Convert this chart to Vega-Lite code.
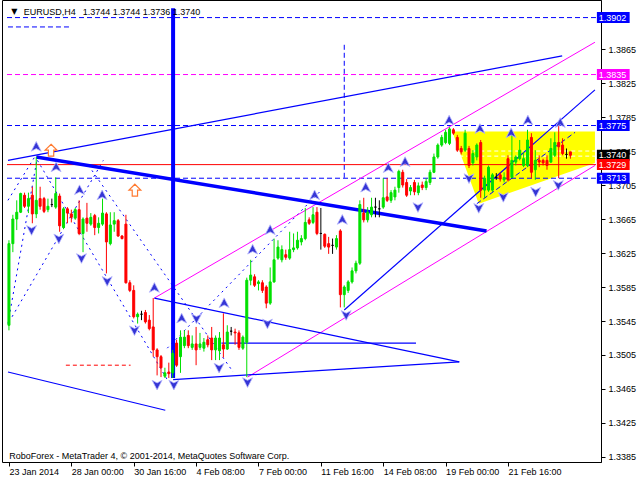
{
"$schema":"https://vega.github.io/schema/vega-lite/v6.json",
"width":599,"height":462,
"autosize":{"type":"none"},
"padding":{"left":2,"top":0,"right":39,"bottom":18},
"background":"white",
"config":{"view":{"stroke":"black","strokeWidth":1},"font":"Liberation Sans","axis":{"labelOverlap":false,"labelBound":false,"labelFlush":false}},
"datasets":{
"candles":[
{"i":0,"o":1.3540,"c":1.3636,"h":1.3640,"l":1.3534},
{"i":1,"o":1.3636,"c":1.3665,"h":1.3670,"l":1.3626},
{"i":2,"o":1.3665,"c":1.3673,"h":1.3687,"l":1.3652},
{"i":3,"o":1.3673,"c":1.3695,"h":1.3696,"l":1.3672},
{"i":4,"o":1.3693,"c":1.3680,"h":1.3696,"l":1.3678},
{"i":5,"o":1.3680,"c":1.3689,"h":1.3696,"l":1.3672},
{"i":6,"o":1.3693,"c":1.3671,"h":1.3703,"l":1.3660},
{"i":7,"o":1.3671,"c":1.3687,"h":1.3738,"l":1.3666},
{"i":8,"o":1.3689,"c":1.3680,"h":1.3703,"l":1.3676},
{"i":9,"o":1.3689,"c":1.3674,"h":1.3691,"l":1.3672},
{"i":10,"o":1.3676,"c":1.3680,"h":1.3689,"l":1.3673},
{"i":11,"o":1.3682,"c":1.3682,"h":1.3689,"l":1.3679},
{"i":12,"o":1.3679,"c":1.3695,"h":1.3714,"l":1.3677},
{"i":13,"o":1.3692,"c":1.3657,"h":1.3695,"l":1.3650},
{"i":14,"o":1.3655,"c":1.3677,"h":1.3679,"l":1.3653},
{"i":15,"o":1.3677,"c":1.3672,"h":1.3679,"l":1.3660},
{"i":16,"o":1.3671,"c":1.3667,"h":1.3676,"l":1.3661},
{"i":17,"o":1.3666,"c":1.3676,"h":1.3678,"l":1.3664},
{"i":18,"o":1.3676,"c":1.3648,"h":1.3687,"l":1.3646},
{"i":19,"o":1.3648,"c":1.3665,"h":1.3667,"l":1.3626},
{"i":20,"o":1.3666,"c":1.3660,"h":1.3684,"l":1.3650},
{"i":21,"o":1.3659,"c":1.3667,"h":1.3672,"l":1.3657},
{"i":22,"o":1.3669,"c":1.3655,"h":1.3671,"l":1.3646},
{"i":23,"o":1.3655,"c":1.3660,"h":1.3667,"l":1.3648},
{"i":24,"o":1.3659,"c":1.3672,"h":1.3689,"l":1.3657},
{"i":25,"o":1.3671,"c":1.3638,"h":1.3673,"l":1.3601},
{"i":26,"o":1.3636,"c":1.3658,"h":1.3673,"l":1.3634},
{"i":27,"o":1.3659,"c":1.3663,"h":1.3673,"l":1.3650},
{"i":28,"o":1.3663,"c":1.3645,"h":1.3665,"l":1.3644},
{"i":29,"o":1.3645,"c":1.3642,"h":1.3646,"l":1.3641},
{"i":30,"o":1.3659,"c":1.3590,"h":1.3670,"l":1.3589},
{"i":31,"o":1.3590,"c":1.3581,"h":1.3593,"l":1.3579},
{"i":32,"o":1.3581,"c":1.3550,"h":1.3587,"l":1.3548},
{"i":33,"o":1.3550,"c":1.3553,"h":1.3555,"l":1.3542},
{"i":34,"o":1.3553,"c":1.3553,"h":1.3557,"l":1.3546},
{"i":35,"o":1.3555,"c":1.3544,"h":1.3558,"l":1.3542},
{"i":36,"o":1.3546,"c":1.3536,"h":1.3552,"l":1.3534},
{"i":37,"o":1.3538,"c":1.3511,"h":1.3572,"l":1.3503},
{"i":38,"o":1.3511,"c":1.3503,"h":1.3513,"l":1.3481},
{"i":39,"o":1.3503,"c":1.3490,"h":1.3505,"l":1.3479},
{"i":40,"o":1.3480,"c":1.3484,"h":1.3490,"l":1.3478},
{"i":41,"o":1.3485,"c":1.3483,"h":1.3496,"l":1.3478},
{"i":42,"o":1.3484,"c":1.3507,"h":1.3511,"l":1.3478},
{"i":43,"o":1.3519,"c":1.3493,"h":1.3523,"l":1.3491},
{"i":44,"o":1.3503,"c":1.3526,"h":1.3534,"l":1.3484},
{"i":45,"o":1.3516,"c":1.3526,"h":1.3534,"l":1.3513},
{"i":46,"o":1.3528,"c":1.3516,"h":1.3534,"l":1.3513},
{"i":47,"o":1.3514,"c":1.3518,"h":1.3528,"l":1.3511},
{"i":48,"o":1.3518,"c":1.3511,"h":1.3538,"l":1.3493},
{"i":49,"o":1.3514,"c":1.3518,"h":1.3531,"l":1.3511},
{"i":50,"o":1.3513,"c":1.3520,"h":1.3525,"l":1.3509},
{"i":51,"o":1.3523,"c":1.3517,"h":1.3528,"l":1.3514},
{"i":52,"o":1.3525,"c":1.3511,"h":1.3538,"l":1.3499},
{"i":53,"o":1.3511,"c":1.3525,"h":1.3528,"l":1.3499},
{"i":54,"o":1.3510,"c":1.3525,"h":1.3532,"l":1.3499},
{"i":55,"o":1.3517,"c":1.3512,"h":1.3554,"l":1.3502},
{"i":56,"o":1.3512,"c":1.3532,"h":1.3540,"l":1.3511},
{"i":57,"o":1.3533,"c":1.3533,"h":1.3538,"l":1.3528},
{"i":58,"o":1.3532,"c":1.3531,"h":1.3536,"l":1.3517},
{"i":59,"o":1.3531,"c":1.3514,"h":1.3534,"l":1.3511},
{"i":60,"o":1.3513,"c":1.3526,"h":1.3528,"l":1.3511},
{"i":61,"o":1.3520,"c":1.3593,"h":1.3596,"l":1.3479},
{"i":62,"o":1.3593,"c":1.3599,"h":1.3617,"l":1.3587},
{"i":63,"o":1.3597,"c":1.3587,"h":1.3600,"l":1.3585},
{"i":64,"o":1.3589,"c":1.3591,"h":1.3593,"l":1.3581},
{"i":65,"o":1.3590,"c":1.3581,"h":1.3593,"l":1.3578},
{"i":66,"o":1.3585,"c":1.3566,"h":1.3587,"l":1.3560},
{"i":67,"o":1.3566,"c":1.3591,"h":1.3608,"l":1.3564},
{"i":68,"o":1.3591,"c":1.3617,"h":1.3642,"l":1.3590},
{"i":69,"o":1.3619,"c":1.3632,"h":1.3640,"l":1.3617},
{"i":70,"o":1.3617,"c":1.3629,"h":1.3634,"l":1.3614},
{"i":71,"o":1.3623,"c":1.3620,"h":1.3629,"l":1.3617},
{"i":72,"o":1.3619,"c":1.3629,"h":1.3650,"l":1.3617},
{"i":73,"o":1.3629,"c":1.3631,"h":1.3648,"l":1.3626},
{"i":74,"o":1.3631,"c":1.3640,"h":1.3650,"l":1.3629},
{"i":75,"o":1.3638,"c":1.3642,"h":1.3646,"l":1.3634},
{"i":76,"o":1.3642,"c":1.3661,"h":1.3678,"l":1.3640},
{"i":77,"o":1.3664,"c":1.3660,"h":1.3667,"l":1.3658},
{"i":78,"o":1.3661,"c":1.3670,"h":1.3679,"l":1.3659},
{"i":79,"o":1.3673,"c":1.3648,"h":1.3679,"l":1.3646},
{"i":80,"o":1.3648,"c":1.3648,"h":1.3678,"l":1.3629},
{"i":81,"o":1.3647,"c":1.3633,"h":1.3648,"l":1.3631},
{"i":82,"o":1.3636,"c":1.3632,"h":1.3644,"l":1.3624},
{"i":83,"o":1.3634,"c":1.3634,"h":1.3642,"l":1.3624},
{"i":84,"o":1.3632,"c":1.3642,"h":1.3646,"l":1.3629},
{"i":85,"o":1.3651,"c":1.3576,"h":1.3653,"l":1.3561},
{"i":86,"o":1.3576,"c":1.3585,"h":1.3587,"l":1.3561},
{"i":87,"o":1.3581,"c":1.3591,"h":1.3593,"l":1.3578},
{"i":88,"o":1.3591,"c":1.3604,"h":1.3608,"l":1.3589},
{"i":89,"o":1.3604,"c":1.3613,"h":1.3616,"l":1.3601},
{"i":90,"o":1.3613,"c":1.3682,"h":1.3687,"l":1.3611},
{"i":91,"o":1.3672,"c":1.3664,"h":1.3690,"l":1.3661},
{"i":92,"o":1.3664,"c":1.3673,"h":1.3679,"l":1.3661},
{"i":93,"o":1.3670,"c":1.3679,"h":1.3690,"l":1.3667},
{"i":94,"o":1.3679,"c":1.3679,"h":1.3690,"l":1.3667},
{"i":95,"o":1.3677,"c":1.3677,"h":1.3687,"l":1.3667},
{"i":96,"o":1.3679,"c":1.3690,"h":1.3713,"l":1.3677},
{"i":97,"o":1.3691,"c":1.3687,"h":1.3713,"l":1.3685},
{"i":98,"o":1.3687,"c":1.3696,"h":1.3699,"l":1.3684},
{"i":99,"o":1.3691,"c":1.3699,"h":1.3703,"l":1.3687},
{"i":100,"o":1.3702,"c":1.3721,"h":1.3723,"l":1.3696},
{"i":101,"o":1.3720,"c":1.3705,"h":1.3723,"l":1.3702},
{"i":102,"o":1.3708,"c":1.3693,"h":1.3712,"l":1.3691},
{"i":103,"o":1.3698,"c":1.3702,"h":1.3705,"l":1.3693},
{"i":104,"o":1.3708,"c":1.3697,"h":1.3711,"l":1.3693},
{"i":105,"o":1.3696,"c":1.3704,"h":1.3708,"l":1.3693},
{"i":106,"o":1.3705,"c":1.3702,"h":1.3709,"l":1.3699},
{"i":107,"o":1.3702,"c":1.3709,"h":1.3713,"l":1.3699},
{"i":108,"o":1.3708,"c":1.3720,"h":1.3723,"l":1.3705},
{"i":109,"o":1.3720,"c":1.3738,"h":1.3742,"l":1.3719},
{"i":110,"o":1.3738,"c":1.3752,"h":1.3754,"l":1.3736},
{"i":111,"o":1.3752,"c":1.3761,"h":1.3764,"l":1.3750},
{"i":112,"o":1.3755,"c":1.3767,"h":1.3770,"l":1.3753},
{"i":113,"o":1.3754,"c":1.3771,"h":1.3773,"l":1.3752},
{"i":114,"o":1.3770,"c":1.3766,"h":1.3772,"l":1.3764},
{"i":115,"o":1.3761,"c":1.3746,"h":1.3764,"l":1.3744},
{"i":116,"o":1.3748,"c":1.3744,"h":1.3751,"l":1.3741},
{"i":117,"o":1.3746,"c":1.3766,"h":1.3770,"l":1.3744},
{"i":118,"o":1.3748,"c":1.3728,"h":1.3751,"l":1.3725},
{"i":119,"o":1.3731,"c":1.3742,"h":1.3746,"l":1.3728},
{"i":120,"o":1.3738,"c":1.3752,"h":1.3754,"l":1.3734},
{"i":121,"o":1.3755,"c":1.3699,"h":1.3758,"l":1.3690},
{"i":122,"o":1.3699,"c":1.3713,"h":1.3716,"l":1.3690},
{"i":123,"o":1.3699,"c":1.3726,"h":1.3728,"l":1.3697},
{"i":124,"o":1.3699,"c":1.3717,"h":1.3719,"l":1.3697},
{"i":125,"o":1.3714,"c":1.3714,"h":1.3719,"l":1.3711},
{"i":126,"o":1.3717,"c":1.3712,"h":1.3720,"l":1.3709},
{"i":127,"o":1.3711,"c":1.3714,"h":1.3720,"l":1.3708},
{"i":128,"o":1.3736,"c":1.3711,"h":1.3740,"l":1.3709},
{"i":129,"o":1.3714,"c":1.3734,"h":1.3766,"l":1.3713},
{"i":130,"o":1.3732,"c":1.3738,"h":1.3740,"l":1.3728},
{"i":131,"o":1.3736,"c":1.3746,"h":1.3758,"l":1.3734},
{"i":132,"o":1.3728,"c":1.3736,"h":1.3744,"l":1.3726},
{"i":133,"o":1.3728,"c":1.3758,"h":1.3770,"l":1.3726},
{"i":134,"o":1.3761,"c":1.3720,"h":1.3766,"l":1.3713},
{"i":135,"o":1.3723,"c":1.3734,"h":1.3746,"l":1.3711},
{"i":136,"o":1.3734,"c":1.3732,"h":1.3740,"l":1.3726},
{"i":137,"o":1.3734,"c":1.3731,"h":1.3736,"l":1.3728},
{"i":138,"o":1.3734,"c":1.3728,"h":1.3740,"l":1.3723},
{"i":139,"o":1.3732,"c":1.3748,"h":1.3760,"l":1.3731},
{"i":140,"o":1.3740,"c":1.3755,"h":1.3767,"l":1.3738},
{"i":141,"o":1.3755,"c":1.3750,"h":1.3778,"l":1.3713},
{"i":142,"o":1.3752,"c":1.3742,"h":1.3760,"l":1.3740},
{"i":143,"o":1.3741,"c":1.3741,"h":1.3748,"l":1.3736},
{"i":144,"o":1.3744,"c":1.3740,"h":1.3744,"l":1.3736}
],
"lines":[
{"g":"trend_thick","i":7.0,"p":1.3738},{"g":"trend_thick","i":122.5,"p":1.3651},
{"g":"vthick","i":42.1,"p":1.3913},{"g":"vthick","i":42.1,"p":1.3478},
{"g":"upper_blue","i":-0.25,"p":1.3734},{"g":"upper_blue","i":141.9,"p":1.3857},
{"g":"blue_chan","i":86.0,"p":1.3558},{"g":"blue_chan","i":150.3,"p":1.3817},
{"g":"tri_upper","i":37.3,"p":1.3572},{"g":"tri_upper","i":115.5,"p":1.3497},
{"g":"tri_lower","i":42.1,"p":1.3476},{"g":"tri_lower","i":115.5,"p":1.3497},
{"g":"tri_mid","i":54.5,"p":1.3519},{"g":"tri_mid","i":104.4,"p":1.3519},
{"g":"lower_left","i":-0.25,"p":1.3485},{"g":"lower_left","i":40.1,"p":1.3440},
{"g":"mag_upper","i":37.3,"p":1.3572},{"g":"mag_upper","i":150.3,"p":1.3873},
{"g":"mag_lower","i":61.2,"p":1.3479},{"g":"mag_lower","i":150.3,"p":1.3728},
{"g":"d1","i":-0.25,"p":1.3542},{"g":"d1","i":7.3,"p":1.3738},
{"g":"d2","i":7.3,"p":1.3734},{"g":"d2","i":40.6,"p":1.3476},
{"g":"d3","i":0.8,"p":1.3550},{"g":"d3","i":24.2,"p":1.3734},
{"g":"d4","i":20.4,"p":1.3728},{"g":"d4","i":57.5,"p":1.3485},
{"g":"d5","i":-0.25,"p":1.3687},{"g":"d5","i":6.6,"p":1.3738},
{"g":"d6","i":40.6,"p":1.3513},{"g":"d6","i":79.7,"p":1.3697},
{"g":"h1902","i":-0.5,"p":1.3902},{"g":"h1902","i":150.56,"p":1.3902},
{"g":"hshort","i":-0.25,"p":1.3891},{"g":"hshort","i":16.1,"p":1.3891},
{"g":"h1775","i":-0.5,"p":1.3775},{"g":"h1775","i":150.56,"p":1.3775},
{"g":"h1713","i":-0.5,"p":1.3713},{"g":"h1713","i":150.56,"p":1.3713},
{"g":"vdash","i":86.0,"p":1.3870},{"g":"vdash","i":86.0,"p":1.3711},
{"g":"ydiag","i":120.0,"p":1.3683},{"g":"ydiag","i":145.2,"p":1.3767},
{"g":"h1835","i":-0.5,"p":1.3835},{"g":"h1835","i":150.56,"p":1.3835},
{"g":"h1729","i":-0.5,"p":1.3729},{"g":"h1729","i":150.56,"p":1.3729},
{"g":"hred","i":14.6,"p":1.3493},{"g":"hred","i":31.2,"p":1.3493},
{"g":"w1","i":115.5,"p":1.3745},{"g":"w1","i":150.56,"p":1.3745},
{"g":"w2","i":115.5,"p":1.3739},{"g":"w2","i":150.56,"p":1.3739}
],
"zone":[
{"i":113.7,"top":1.3768,"bot":1.3768},
{"i":120.5,"top":1.3768,"bot":1.3683},
{"i":150.3,"top":1.3768,"bot":1.3731}
],
"arrows":[
{"d":"up","i":7.0,"p":1.3750},{"d":"up","i":12.1,"p":1.3726},{"d":"up","i":18.1,"p":1.3699},{"d":"up","i":23.9,"p":1.3693},
{"d":"up","i":37.3,"p":1.3584},{"d":"up","i":44.3,"p":1.3548},{"d":"up","i":55.2,"p":1.3566},{"d":"up","i":62.5,"p":1.3629},
{"d":"up","i":67.0,"p":1.3652},{"d":"up","i":78.4,"p":1.3693},{"d":"up","i":85.5,"p":1.3664},{"d":"up","i":91.5,"p":1.3702},
{"d":"up","i":97.3,"p":1.3725},{"d":"up","i":101.6,"p":1.3732},{"d":"up","i":112.9,"p":1.3781},{"d":"up","i":120.8,"p":1.3771},
{"d":"up","i":128.8,"p":1.3766},{"d":"up","i":133.1,"p":1.3781},{"d":"up","i":141.4,"p":1.3778},
{"d":"down","i":5.8,"p":1.3652},{"d":"down","i":12.8,"p":1.3642},{"d":"down","i":18.6,"p":1.3619},{"d":"down","i":25.2,"p":1.3592},
{"d":"down","i":32.2,"p":1.3534},{"d":"down","i":38.0,"p":1.3470},{"d":"down","i":42.3,"p":1.3470},{"d":"down","i":48.1,"p":1.3548},
{"d":"down","i":53.9,"p":1.3490},{"d":"down","i":61.2,"p":1.3473},{"d":"down","i":66.3,"p":1.3542},{"d":"down","i":86.5,"p":1.3552},
{"d":"down","i":104.9,"p":1.3679},{"d":"down","i":118.0,"p":1.3713},{"d":"down","i":120.5,"p":1.3678},{"d":"down","i":126.8,"p":1.3691},
{"d":"down","i":135.1,"p":1.3697},{"d":"down","i":140.9,"p":1.3705},
{"d":"buy","i":10.8,"p":1.3746},{"d":"buy","i":32.3,"p":1.3699}
],
"levels":[
{"k":"h1902","p":1.3902,"t":"1.3902"},
{"k":"h1835","p":1.3835,"t":"1.3835"},
{"k":"h1775","p":1.3775,"t":"1.3775"},
{"k":"bid","p":1.3740,"t":"1.3740"},
{"k":"h1729","p":1.3729,"t":"1.3729"},
{"k":"h1713","p":1.3713,"t":"1.3713"}
]
},
"layer":[
{"data":{"name":"zone"},
 "mark":{"type":"area","color":"#FFFF00","opacity":1},
 "encoding":{
  "x":{"field":"i","type":"quantitative","title":null,
   "scale":{"domain":[-0.5,150.57],"nice":false,"zero":false},
   "axis":{"values":[0,16,32,48,64,80,96,112,128],"tickCount":30,
    "labelExpr":"['23 Jan 2014','28 Jan 00:00','30 Jan 16:00','4 Feb 08:00','7 Feb 00:00','11 Feb 16:00','14 Feb 08:00','19 Feb 00:00','21 Feb 16:00'][round(datum.value/16)]",
    "labelAlign":"left","labelBaseline":"top","labelPadding":1,"tickSize":4,"tickColor":"black","domain":false,"grid":false,
    "labelFont":"Liberation Sans","labelFontSize":9,"labelColor":"black","labelFlush":false,"labelOverlap":false,"labelBound":false}},
  "y":{"field":"top","type":"quantitative","title":null,
   "scale":{"domain":[1.33791,1.39227],"nice":false,"zero":false},
   "axis":{"orient":"right","values":[1.3385,1.3425,1.3465,1.3505,1.3545,1.3585,1.3625,1.3665,1.3705,1.3745,1.3785,1.3825,1.3865],"tickCount":30,
    "format":".4f","tickSize":4,"tickColor":"black","labelPadding":3,"labelAlign":"left","labelBaseline":"middle","domain":true,"domainColor":"black","grid":false,
    "labelFont":"Liberation Sans","labelFontSize":9,"labelColor":"black","labelOverlap":false,"labelFlush":false,"labelBound":false}},
  "y2":{"field":"bot"}}},
{"data":{"name":"lines"},"transform":[{"filter":{"field":"g","oneOf":["w1","w2"]}}],
 "mark":{"type":"line","color":"#FFFFFF","strokeWidth":1,"strokeDash":[4,3],"clip":true},
 "encoding":{"x":{"field":"i","type":"quantitative","title":null},"y":{"field":"p","type":"quantitative","title":null},"detail":{"field":"g"}}},
{"data":{"name":"lines"},"transform":[{"filter":{"field":"g","oneOf":["h1902","hshort","h1775","h1713","vdash","ydiag"]}}],
 "mark":{"type":"line","color":"#0000FF","strokeWidth":1,"strokeDash":[5,3],"clip":true},
 "encoding":{"x":{"field":"i","type":"quantitative","title":null},"y":{"field":"p","type":"quantitative","title":null},"detail":{"field":"g"}}},
{"data":{"name":"lines"},"transform":[{"filter":{"field":"g","oneOf":["h1835"]}}],
 "mark":{"type":"line","color":"#FF00FF","strokeWidth":1,"strokeDash":[5,3],"clip":true},
 "encoding":{"x":{"field":"i","type":"quantitative","title":null},"y":{"field":"p","type":"quantitative","title":null},"detail":{"field":"g"}}},
{"data":{"name":"lines"},"transform":[{"filter":{"field":"g","oneOf":["hred"]}}],
 "mark":{"type":"line","color":"#FF0000","strokeWidth":1,"strokeDash":[4,3],"clip":true},
 "encoding":{"x":{"field":"i","type":"quantitative","title":null},"y":{"field":"p","type":"quantitative","title":null},"detail":{"field":"g"}}},
{"data":{"name":"lines"},"transform":[{"filter":{"field":"g","oneOf":["d1","d2","d3","d4","d5","d6"]}}],
 "mark":{"type":"line","color":"#0000FF","strokeWidth":1,"strokeDash":[2,4],"clip":true},
 "encoding":{"x":{"field":"i","type":"quantitative","title":null},"y":{"field":"p","type":"quantitative","title":null},"detail":{"field":"g"}}},
{"data":{"name":"lines"},"transform":[{"filter":{"field":"g","oneOf":["mag_upper","mag_lower"]}}],
 "mark":{"type":"line","color":"#FF00FF","strokeWidth":1,"clip":true},
 "encoding":{"x":{"field":"i","type":"quantitative","title":null},"y":{"field":"p","type":"quantitative","title":null},"detail":{"field":"g"}}},
{"data":{"name":"lines"},"transform":[{"filter":{"field":"g","oneOf":["upper_blue","blue_chan","tri_upper","tri_lower","tri_mid","lower_left"]}}],
 "mark":{"type":"line","color":"#0000FF","strokeWidth":1.2,"clip":true},
 "encoding":{"x":{"field":"i","type":"quantitative","title":null},"y":{"field":"p","type":"quantitative","title":null},"detail":{"field":"g"}}},
{"data":{"name":"lines"},"transform":[{"filter":{"field":"g","oneOf":["h1729"]}}],
 "mark":{"type":"line","color":"#FF0000","strokeWidth":1,"clip":true},
 "encoding":{"x":{"field":"i","type":"quantitative","title":null},"y":{"field":"p","type":"quantitative","title":null},"detail":{"field":"g"}}},
{"data":{"name":"lines"},"transform":[{"filter":{"field":"g","oneOf":["trend_thick"]}}],
 "mark":{"type":"line","color":"#0000FF","strokeWidth":3.5,"clip":true},
 "encoding":{"x":{"field":"i","type":"quantitative","title":null},"y":{"field":"p","type":"quantitative","title":null},"detail":{"field":"g"}}},
{"data":{"name":"lines"},"transform":[{"filter":{"field":"g","oneOf":["vthick"]}}],
 "mark":{"type":"line","color":"#0000FF","strokeWidth":4,"strokeCap":"butt","clip":true},
 "encoding":{"x":{"field":"i","type":"quantitative","title":null},"y":{"field":"p","type":"quantitative","title":null},"detail":{"field":"g"}}},
{"data":{"name":"candles"},
 "mark":{"type":"rule","strokeWidth":1},
 "encoding":{"x":{"field":"i","type":"quantitative","title":null},"y":{"field":"l","type":"quantitative","title":null},"y2":{"field":"h"},
  "color":{"condition":[{"test":"datum.c > datum.o","value":"#00E000"},{"test":"datum.c < datum.o","value":"#FF0000"}],"value":"#000000"}}},
{"data":{"name":"candles"},
 "mark":{"type":"bar","size":2,"strokeWidth":1},
 "encoding":{"x":{"field":"i","type":"quantitative","title":null},"y":{"field":"o","type":"quantitative","title":null},"y2":{"field":"c"},
  "fill":{"condition":[{"test":"datum.c > datum.o","value":"#00E000"},{"test":"datum.c < datum.o","value":"#FF0000"}],"value":"#000000"},
  "stroke":{"condition":[{"test":"datum.c > datum.o","value":"#00E000"},{"test":"datum.c < datum.o","value":"#FF0000"}],"value":"#000000"}}},
{"data":{"name":"arrows"},"transform":[{"filter":"datum.d == 'up'"}],
 "mark":{"type":"point","shape":"M0,-1L0.95,0.85L0,0.35L-0.95,0.85Z","filled":true,"fill":"#3535D5","stroke":"#B8B8FF","strokeWidth":0.8,"size":110,"opacity":1},
 "encoding":{"x":{"field":"i","type":"quantitative","title":null},"y":{"field":"p","type":"quantitative","title":null}}},
{"data":{"name":"arrows"},"transform":[{"filter":"datum.d == 'down'"}],
 "mark":{"type":"point","shape":"M0,1L0.95,-0.85L0,-0.35L-0.95,-0.85Z","filled":true,"fill":"#3535D5","stroke":"#B8B8FF","strokeWidth":0.8,"size":110,"opacity":1},
 "encoding":{"x":{"field":"i","type":"quantitative","title":null},"y":{"field":"p","type":"quantitative","title":null}}},
{"data":{"name":"arrows"},"transform":[{"filter":"datum.d == 'buy'"}],
 "mark":{"type":"point","shape":"M0,-1L1,0L0.45,0L0.45,1L-0.45,1L-0.45,0L-1,0Z","filled":false,"fill":"#FFFFFF","stroke":"#FF7A30","strokeWidth":1.2,"size":140,"opacity":1},
 "encoding":{"x":{"field":"i","type":"quantitative","title":null},"y":{"field":"p","type":"quantitative","title":null}}},
{"data":{"values":[{}]},
 "mark":{"type":"text","align":"left","baseline":"alphabetic","font":"DejaVu Sans","fontSize":8,"color":"black"},
 "encoding":{"x":{"datum":0.6},"y":{"datum":1.3906},"text":{"value":"▼"}}},
{"data":{"values":[{}]},
 "mark":{"type":"text","align":"left","baseline":"alphabetic","font":"Liberation Sans","fontSize":9,"color":"black"},
 "encoding":{"x":{"datum":3.78},"y":{"datum":1.3905},"text":{"value":"EURUSD,H4"}}},
{"data":{"values":[{}]},
 "mark":{"type":"text","align":"left","baseline":"alphabetic","font":"Liberation Sans","fontSize":9,"color":"black"},
 "encoding":{"x":{"datum":18.9},"y":{"datum":1.3905},"text":{"value":"1.3744 1.3744 1.3736 1.3740"}}},
{"data":{"values":[{}]},
 "mark":{"type":"text","align":"left","baseline":"alphabetic","font":"Liberation Sans","fontSize":9,"color":"black"},
 "encoding":{"x":{"datum":0.1},"y":{"datum":1.33826},"text":{"value":"RoboForex - MetaTrader 4, © 2001-2014, MetaQuotes Software Corp."}}},
{"data":{"name":"levels"},
 "mark":{"type":"rule","strokeWidth":11,"strokeCap":"butt"},
 "encoding":{"x":{"datum":150.8},"x2":{"datum":159.2},"y":{"field":"p","type":"quantitative","title":null},
  "color":{"field":"k","type":"nominal","legend":null,
   "scale":{"domain":["h1902","h1835","h1775","bid","h1729","h1713"],"range":["#0000FF","#FF00FF","#0000FF","#000000","#FF0000","#0000FF"]}}}},
{"data":{"name":"levels"},
 "mark":{"type":"text","align":"left","baseline":"middle","font":"Liberation Sans","fontSize":9,"color":"#FFFFFF"},
 "encoding":{"x":{"datum":151.3},"y":{"field":"p","type":"quantitative","title":null},"text":{"field":"t"}}}
]
}
